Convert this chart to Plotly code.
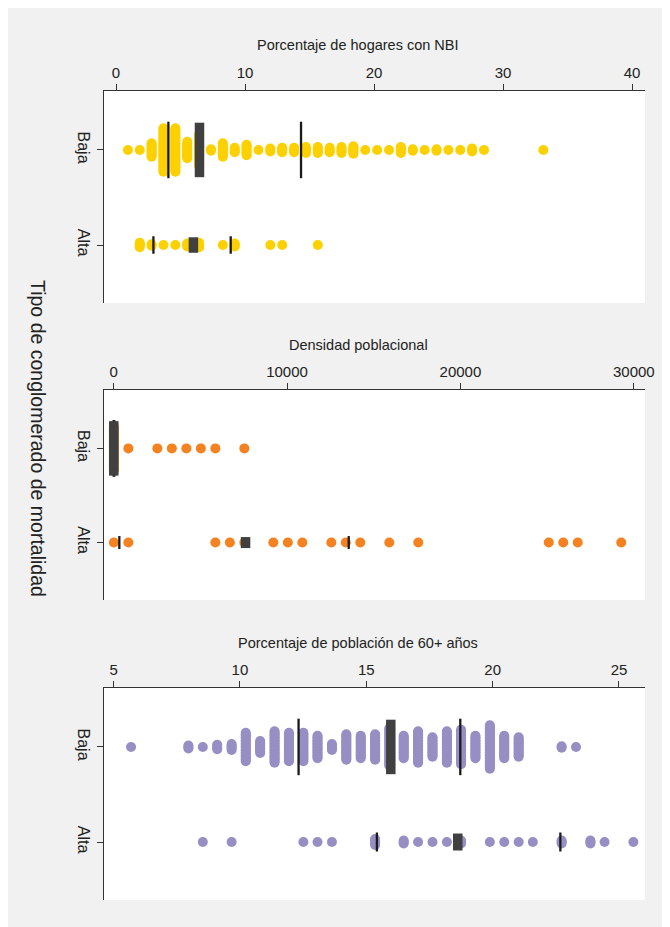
import plotly.graph_objects as go

# ---------------- data ----------------
CATEGORIES = ["Alta", "Baja"]          # plotted at y = 1, 2
Y_TITLE = "Tipo de conglomerado de mortalidad"

# Panel 1 - Porcentaje de hogares con NBI (binned dot counts)
NBI_TITLE = "Porcentaje de hogares con NBI"
NBI_TICKS = [0, 10, 20, 30, 40]
NBI_TICKTEXT = ["0", "10", "20", "30", "40"]
NBI_BAJA_X = [0.92, 1.84, 2.76, 3.68, 4.6, 5.52, 6.44, 7.36, 8.28, 9.2, 10.12, 11.04,
              11.96, 12.88, 13.8, 14.72, 15.64, 16.56, 17.48, 18.4, 19.32, 20.24,
              21.16, 22.08, 23.0, 23.92, 24.84, 25.76, 26.68, 27.6, 28.52, 33.12]
NBI_BAJA_N = [1, 1, 10, 30, 30, 12, 22, 2, 10, 4, 8, 1, 3, 4, 4, 5, 5, 4, 5, 6,
              1, 1, 1, 5, 2, 1, 2, 1, 1, 3, 1, 1]
NBI_ALTA_X = [1.84, 2.76, 3.68, 4.6, 5.52, 6.44, 8.28, 9.2, 11.96, 12.88, 15.64]
NBI_ALTA_N = [4, 2, 1, 1, 3, 4, 1, 3, 1, 1, 1]
NBI_BAJA_Q = [4.06, 6.47, 14.34]       # Q1, mediana, Q3
NBI_ALTA_Q = [2.9, 6.0, 8.89]

# Panel 2 - Densidad poblacional
DEN_TITLE = "Densidad poblacional"
DEN_TICKS = [0, 10000, 20000, 30000]
DEN_TICKTEXT = ["0", "10000", "20000", "30000"]
DEN_BAJA_X = [15, 851, 2523, 3359, 4195, 5031, 5867, 7539]
DEN_BAJA_N = [30, 1, 1, 1, 1, 1, 1, 1]
DEN_ALTA_X = [15, 851, 5867, 6703, 7539, 9211, 10047, 10883, 12555, 13391, 14227,
              15899, 17571, 25095, 25931, 26767, 29275]
DEN_ALTA_N = [1] * 17
DEN_BAJA_Q = [0, 10, 40]
DEN_ALTA_Q = [330, 7610, 13560]

# Panel 3 - Porcentaje de poblacion de 60+ anos
OLD_TITLE = "Porcentaje de población de 60+ años"
OLD_TICKS = [5, 10, 15, 20, 25]
OLD_TICKTEXT = ["5", "10", "15", "20", "25"]
OLD_BAJA_X = [5.69, 7.96, 8.53, 9.10, 9.67, 10.23, 10.80, 11.37, 11.94, 12.51, 13.07,
              13.64, 14.21, 14.78, 15.35, 15.91, 16.48, 17.05, 17.62, 18.19, 18.75,
              19.32, 19.89, 20.46, 21.03, 22.73, 23.30]
OLD_BAJA_N = [1, 3, 1, 4, 5, 20, 9, 22, 20, 20, 16, 5, 18, 16, 18, 26, 16, 22, 14,
              22, 24, 16, 30, 16, 14, 2, 1]
OLD_ALTA_X = [8.53, 9.67, 12.51, 13.07, 13.64, 15.35, 16.48, 17.05, 17.62, 18.19,
              18.75, 19.89, 20.46, 21.03, 21.59, 22.73, 23.87, 24.43, 25.57]
OLD_ALTA_N = [1, 1, 1, 1, 1, 5, 3, 1, 1, 1, 3, 1, 1, 1, 1, 3, 3, 1, 1]
OLD_BAJA_Q = [12.32, 15.97, 18.72]
OLD_ALTA_Q = [15.42, 18.62, 22.68]

# ---------------- style / layout ----------------
W, H = 670, 927
OFF = 8                                  # page body margin offset
ML, MR, MT, MB = 104 - OFF, 33, 91 - OFF, 35
PW, PH = W - ML - MR, H - MT - MB
FONT = "Liberation Sans Narrow, Arial Narrow, Liberation Sans, Arial, sans-serif"
TXT = "#222222"
GRAY = "#f0f1f0"
YELLOW = "#fdd000"
ORANGE = "#f58220"
PURPLE = "#968fc4"
BOX = "#404040"
QLINE = "#1a1a1a"
DOT_PX = 10
STEP_PX = 1.5
YRANGE = [0.39, 2.62]


def px_x(px):
    """page pixel (reference image) -> paper x"""
    return (px - OFF - ML) / PW


def px_y(py):
    """page pixel (reference image) -> paper y"""
    return (H - MB - (py - OFF)) / PH


panels = [
    dict(title=NBI_TITLE, ticks=NBI_TICKS, ticktext=NBI_TICKTEXT, color=YELLOW,
         xr=[-0.93, 41.0], top=91, bottom=303, title_y=45,
         groups=[(NBI_BAJA_X, NBI_BAJA_N, NBI_BAJA_Q, 2), (NBI_ALTA_X, NBI_ALTA_N, NBI_ALTA_Q, 1)]),
    dict(title=DEN_TITLE, ticks=DEN_TICKS, ticktext=DEN_TICKTEXT, color=ORANGE,
         xr=[-554, 30646], top=390, bottom=600, title_y=345,
         groups=[(DEN_BAJA_X, DEN_BAJA_N, DEN_BAJA_Q, 2), (DEN_ALTA_X, DEN_ALTA_N, DEN_ALTA_Q, 1)]),
    dict(title=OLD_TITLE, ticks=OLD_TICKS, ticktext=OLD_TICKTEXT, color=PURPLE,
         xr=[4.62, 26.03], top=688, bottom=900, title_y=643,
         groups=[(OLD_BAJA_X, OLD_BAJA_N, OLD_BAJA_Q, 2), (OLD_ALTA_X, OLD_ALTA_N, OLD_ALTA_Q, 1)]),
]

fig = go.Figure()
annotations = []
for i, p in enumerate(panels, start=1):
    xa = "x" if i == 1 else f"x{i}"
    ya = "y" if i == 1 else f"y{i}"
    px_per_unit = (p["bottom"] - p["top"]) / (YRANGE[1] - YRANGE[0])
    step = STEP_PX / px_per_unit
    # dots
    for xs_c, ns, qs, ycat in p["groups"]:
        xs, ys = [], []
        for c, n in zip(xs_c, ns):
            for k in range(n):
                xs.append(c)
                ys.append(ycat + (k - (n - 1) / 2) * step)
        fig.add_trace(go.Scatter(x=xs, y=ys, mode="markers", xaxis=xa, yaxis=ya,
                                 marker=dict(size=DOT_PX, color=p["color"], line=dict(width=0)),
                                 hoverinfo="skip"))
    # quartile marks
    for xs_c, ns, qs, ycat in p["groups"]:
        hpx = DOT_PX + (max(ns) - 1) * STEP_PX
        half_line = (hpx + 3) / 2 / px_per_unit
        half_box = (hpx + 1) / 2 / px_per_unit
        for q in (qs[0], qs[2]):
            fig.add_trace(go.Scatter(x=[q, q], y=[ycat - half_line, ycat + half_line], mode="lines",
                                     xaxis=xa, yaxis=ya, line=dict(color=QLINE, width=2.3),
                                     hoverinfo="skip"))
        fig.add_trace(go.Scatter(x=[qs[1], qs[1]], y=[ycat - half_box, ycat + half_box], mode="lines",
                                 xaxis=xa, yaxis=ya, line=dict(color=BOX, width=9.5),
                                 hoverinfo="skip"))
    dom = [px_y(p["bottom"]), px_y(p["top"])]
    fig.update_layout(**{
        ("xaxis" if i == 1 else f"xaxis{i}"): dict(
            domain=[0, 1], anchor=ya, side="top", range=p["xr"], tickvals=p["ticks"],
            ticktext=p["ticktext"], showline=True, linecolor="#333333", linewidth=1,
            ticks="outside", ticklen=6, tickcolor="#333333", showgrid=False, zeroline=False,
            tickfont=dict(size=15, color=TXT, family=FONT), fixedrange=True),
        ("yaxis" if i == 1 else f"yaxis{i}"): dict(
            domain=dom, anchor=xa, range=YRANGE, tickvals=[1, 2], ticktext=CATEGORIES,
            tickangle=90, showline=True, linecolor="#333333", linewidth=1, ticks="outside",
            ticklen=6, tickcolor="#333333", showgrid=False, zeroline=False,
            tickfont=dict(size=16, color=TXT, family=FONT), fixedrange=True),
    })
    annotations.append(dict(text=p["title"], xref="paper", yref="paper", x=px_x(358),
                            y=px_y(p["title_y"]), xanchor="center", yanchor="middle",
                            showarrow=False, font=dict(size=14.5, color=TXT, family=FONT)))

annotations.append(dict(text=Y_TITLE, xref="paper", yref="paper", x=px_x(38), y=px_y(438),
                        xanchor="center", yanchor="middle", textangle=90, showarrow=False,
                        font=dict(size=19.5, color=TXT, family=FONT)))

fig.update_layout(
    width=W, height=H, margin=dict(l=ML, r=MR, t=MT, b=MB, pad=0),
    paper_bgcolor=GRAY, plot_bgcolor="white", showlegend=False,
    font=dict(family=FONT, color=TXT), annotations=annotations,
)

fig.write_html("out.html")
